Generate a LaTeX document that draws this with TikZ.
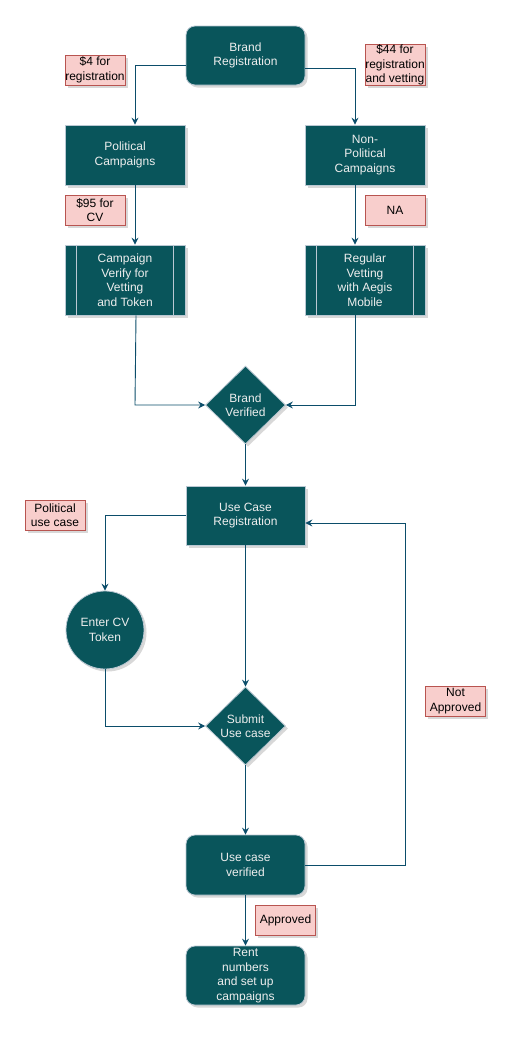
\documentclass[tikz,border=0pt]{standalone}
\usepackage{fontspec}
\setmainfont{Liberation Sans}
\usetikzlibrary{calc,shapes.geometric,arrows.meta,shadows}
\definecolor{tealfill}{HTML}{09555B}
\definecolor{tealline}{HTML}{BAC8D3}
\definecolor{tealtext}{HTML}{EEEEEE}
\definecolor{edgeblue}{HTML}{0B4D6A}
\definecolor{notefill}{HTML}{F8CECC}
\definecolor{noteline}{HTML}{B85450}

\begin{document}
\begin{tikzpicture}[x=1pt, y=-1pt,
	every node/.style={font=\fontsize{12}{14.5}\selectfont, align=center, inner sep=0pt},
	stepshade/.style={drop shadow={shadow xshift=2.5pt, shadow yshift=-2.5pt, opacity=0.25, fill=black!60}},
	stepbox/.style={draw=tealline, fill=tealfill, text=tealtext, line width=0.8pt, minimum width=119pt, minimum height=59pt, stepshade},
	roundbox/.style={stepbox, rounded corners=9pt},
	procbox/.style={stepbox, minimum width=120pt, minimum height=70pt},
	decision/.style={diamond, draw=tealline, fill=tealfill, text=tealtext, line width=0.8pt, minimum width=80pt, minimum height=78pt, stepshade},
	roundstep/.style={circle, draw=tealline, fill=tealfill, text=tealtext, line width=0.8pt, minimum size=78pt, stepshade},
	note/.style={draw=noteline, fill=notefill, text=black, line width=0.8pt, minimum width=60pt, minimum height=30pt, stepshade},
	link/.style={draw=edgeblue, line width=0.9pt, -{Stealth[length=7pt, width=7pt, inset=2.5pt]}}]
		%%%%% START %%%%%
		
		\useasboundingbox[fill=white] (0, 0) rectangle (517, 1037);
		
		% top of the chart
		\node[roundbox] (brand) at (245.5, 55.5) {Brand\\Registration};
		\node[note] (fee4) at (95, 70) {\$4 for\\registration};
		\node[note, minimum height=40pt] (fee44) at (395, 65) {\$44 for\\registration\\and vetting};
		
		\node[stepbox, minimum width=120pt, minimum height=60pt] (pol) at (125, 155) {Political\\Campaigns};
		\node[stepbox, minimum width=120pt, minimum height=60pt] (nonpol) at (365, 155) {Non-\\Political\\Campaigns};
		
		\node[note] (fee95) at (95, 210) {\$95 for\\CV};
		\node[note] (na) at (395, 210) {NA};
		
		\node[procbox] (cvv) at (125, 280) {Campaign\\Verify for\\Vetting\\and Token};
		\draw[tealline, line width=0.8pt] ([xshift=12pt]cvv.north west) -- ([xshift=12pt]cvv.south west);
		\draw[tealline, line width=0.8pt] ([xshift=-12pt]cvv.north east) -- ([xshift=-12pt]cvv.south east);
		\node[procbox] (vet) at (365, 280) {Regular\\Vetting\\with Aegis\\Mobile};
		\draw[tealline, line width=0.8pt] ([xshift=12pt]vet.north west) -- ([xshift=12pt]vet.south west);
		\draw[tealline, line width=0.8pt] ([xshift=-12pt]vet.north east) -- ([xshift=-12pt]vet.south east);
		
		\node[decision] (bver) at (245.5, 405) {Brand\\Verified};
		
		% use case part
		\node[stepbox] (ucreg) at (245.5, 515.5) {Use Case\\Registration};
		\node[note] (poluc) at (55, 515) {Political\\use case};
		\node[roundstep] (cvtok) at (105, 630) {Enter CV\\Token};
		\node[decision] (submit) at (245.5, 726) {Submit\\Use case};
		\node[note] (notapp) at (455.5, 701) {Not\\Approved};
		\node[roundbox, minimum height=60pt] (ucver) at (245.5, 865) {Use case\\verified};
		\node[note] (approved) at (285.5, 920) {Approved};
		\node[roundbox] (rent) at (245.5, 975.5) {Rent\\numbers\\and set up\\campaigns};
		\coordinate (back) at (405.5, 523);
		
		% connectors
		\draw[link] ([yshift=-9.5pt]brand.west) -| ([xshift=10pt]pol.north);
		\draw[link] ([yshift=-12.5pt]brand.east) -| ([xshift=-10pt]nonpol.north);
		\draw[link] ([xshift=10pt]pol.south) -- ([xshift=10pt]cvv.north);
		\draw[link] ([xshift=-10pt]nonpol.south) -- ([xshift=-10pt]vet.north);
		\draw[link] ([xshift=11pt]cvv.south) -- ([xshift=10pt]cvv.south |- bver.west) -- (bver.west);
		\draw[link] ([xshift=-10pt]vet.south) |- (bver.east);
		\draw[link] (bver.south) -- (ucreg.north);
		\draw[link] (ucreg.west) -| (cvtok.north);
		\draw[link] (cvtok.south) |- (submit.west);
		\draw[link] (ucreg.south) -- (submit.north);
		\draw[link] (submit.south) -- (ucver.north);
		\draw[link] (ucver.east) -| (back) -- ([yshift=-7.5pt]ucreg.east);
		\draw[link] (ucver.south) -- (rent.north);
		
		%%%%% END %%%%%
	\end{tikzpicture}
\end{document}
